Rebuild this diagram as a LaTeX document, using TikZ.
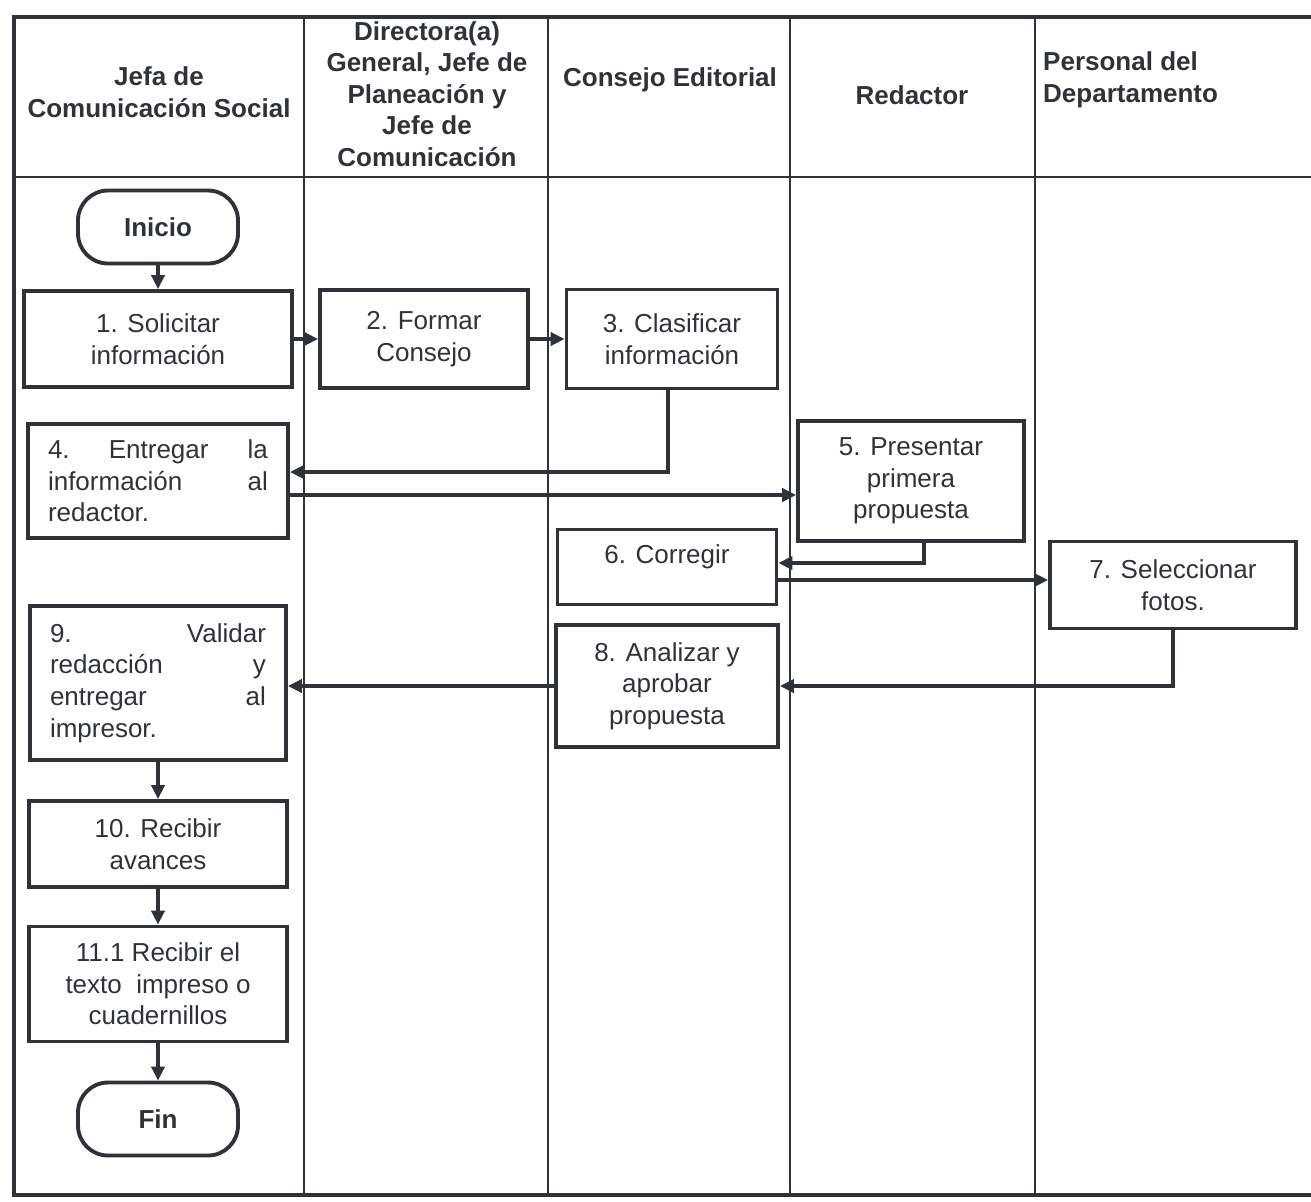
\documentclass[tikz,border=0pt]{standalone}
\usepackage{fontspec}
\setmainfont{Liberation Sans}
\usetikzlibrary{arrows.meta,calc}
\definecolor{Ink}{HTML}{2F3337}

\begin{document}
\begin{tikzpicture}[x=0.02cm,y=-0.02cm,
  every node/.style={font=\fontsize{14.8}{18}\selectfont,text=Ink},
  lane/.style={font=\fontsize{14.8}{18}\selectfont\bfseries,align=center},
  stepbox/.style={draw=Ink,line width=2.2pt,align=center,inner sep=2pt},
  justbox/.style={stepbox,align=left,inner xsep=0.4cm},
  term/.style={draw=Ink,line width=2.2pt,rounded corners=0.6cm,minimum width=3.2cm,
    minimum height=1.46cm,font=\fontsize{14.8}{18}\selectfont\bfseries},
  flow/.style={draw=Ink,line width=2.2pt,-{Triangle[length=8pt,width=7.5pt]}}]
  \useasboundingbox (0,0) rectangle (1311,1201);
  % swimlane frame
  \draw[Ink,line width=2pt] (1311,17) -- (14,17) -- (14,1195) -- (1311,1195);
  \draw[Ink,line width=1.6pt] (14,177) -- (1311,177);
  \foreach \cx in {304,548,790,1035}
    \draw[Ink,line width=1.1pt] (\cx,17) -- (\cx,1195);
  \node[lane] (h1) at (159,92) {Jefa de\\Comunicación Social};
  \node[lane] (h2) at (427,94) {Directora(a)\\General, Jefe de\\Planeación y\\Jefe de\\Comunicación};
  \node[lane] (h3) at (670,80) {Consejo Editorial};
  \node[lane] (h4) at (912,95) {Redactor};
  \node[lane,align=left,anchor=west] (h5) at (1037,80) {Personal del\\Departamento};
  % steps
  \node[term] (ini) at (158,227) {Inicio};
  \node[stepbox,minimum width=5.36cm,minimum height=1.92cm] (b1) at (158,339) {1. Solicitar\\información};
  \node[stepbox,minimum width=4.16cm,minimum height=1.96cm] (b2) at (424,339) {2. Formar\\Consejo};
  \node[stepbox,minimum width=4.22cm,minimum height=1.98cm] (b3) at (672,339) {3. Clasificar\\información};
  \node[justbox,text width=4.4cm,minimum height=2.28cm] (b4) at (158,481)
    {4.\hfill Entregar\hfill la\\información\hfill al\\redactor.};
  \node[stepbox,minimum width=4.52cm,minimum height=2.40cm] (b5) at (911,481) {5. Presentar\\primera\\propuesta};
  \node[stepbox,minimum width=4.38cm,minimum height=1.50cm,text depth=15pt] (b6) at (667,567) {6. Corregir};
  \node[stepbox,minimum width=4.92cm,minimum height=1.74cm] (b7) at (1173,585) {7. Seleccionar\\fotos.};
  \node[stepbox,minimum width=4.44cm,minimum height=2.44cm] (b8) at (667,686) {8. Analizar y\\aprobar\\propuesta};
  \node[justbox,text width=4.32cm,minimum height=3.08cm] (b9) at (158,683)
    {9.\hfill Validar\\redacción\hfill y\\entregar\hfill al\\impresor.};
  \node[stepbox,minimum width=5.16cm,minimum height=1.72cm] (b10) at (158,844) {10. Recibir\\avances};
  \node[stepbox,minimum width=5.16cm,minimum height=2.30cm] (b11) at (158,984)
    {11.1 Recibir el\\texto\ \ impreso o\\cuadernillos};
  \node[term] (fin) at (158,1119) {Fin};
  % connectors
  \draw[flow] (ini) -- (b1);
  \draw[flow] (b1) -- (b2);
  \draw[flow] (b2) -- (b3);
  \draw[flow] ($(b3.south)+(-4,0)$) |- ($(b4.east)+(0,-9)$);
  \draw[flow] ($(b4.east)+(0,14)$) -- ($(b5.west)+(0,14)$);
  \draw[flow] ($(b5.south)+(13,0)$) |- ($(b6.east)+(0,-4)$);
  \coordinate (c67) at ($(b6.east)+(0,13)$);
  \draw[flow] (c67) -- (c67 -| b7.west);
  \draw[flow] (b7.south) |- (b8.east);
  \draw[flow] (b8.west) -- (b8.west -| b9.east);
  \draw[flow] (b9) -- (b10);
  \draw[flow] (b10) -- (b11);
  \draw[flow] (b11) -- (fin);
\end{tikzpicture}
\end{document}
